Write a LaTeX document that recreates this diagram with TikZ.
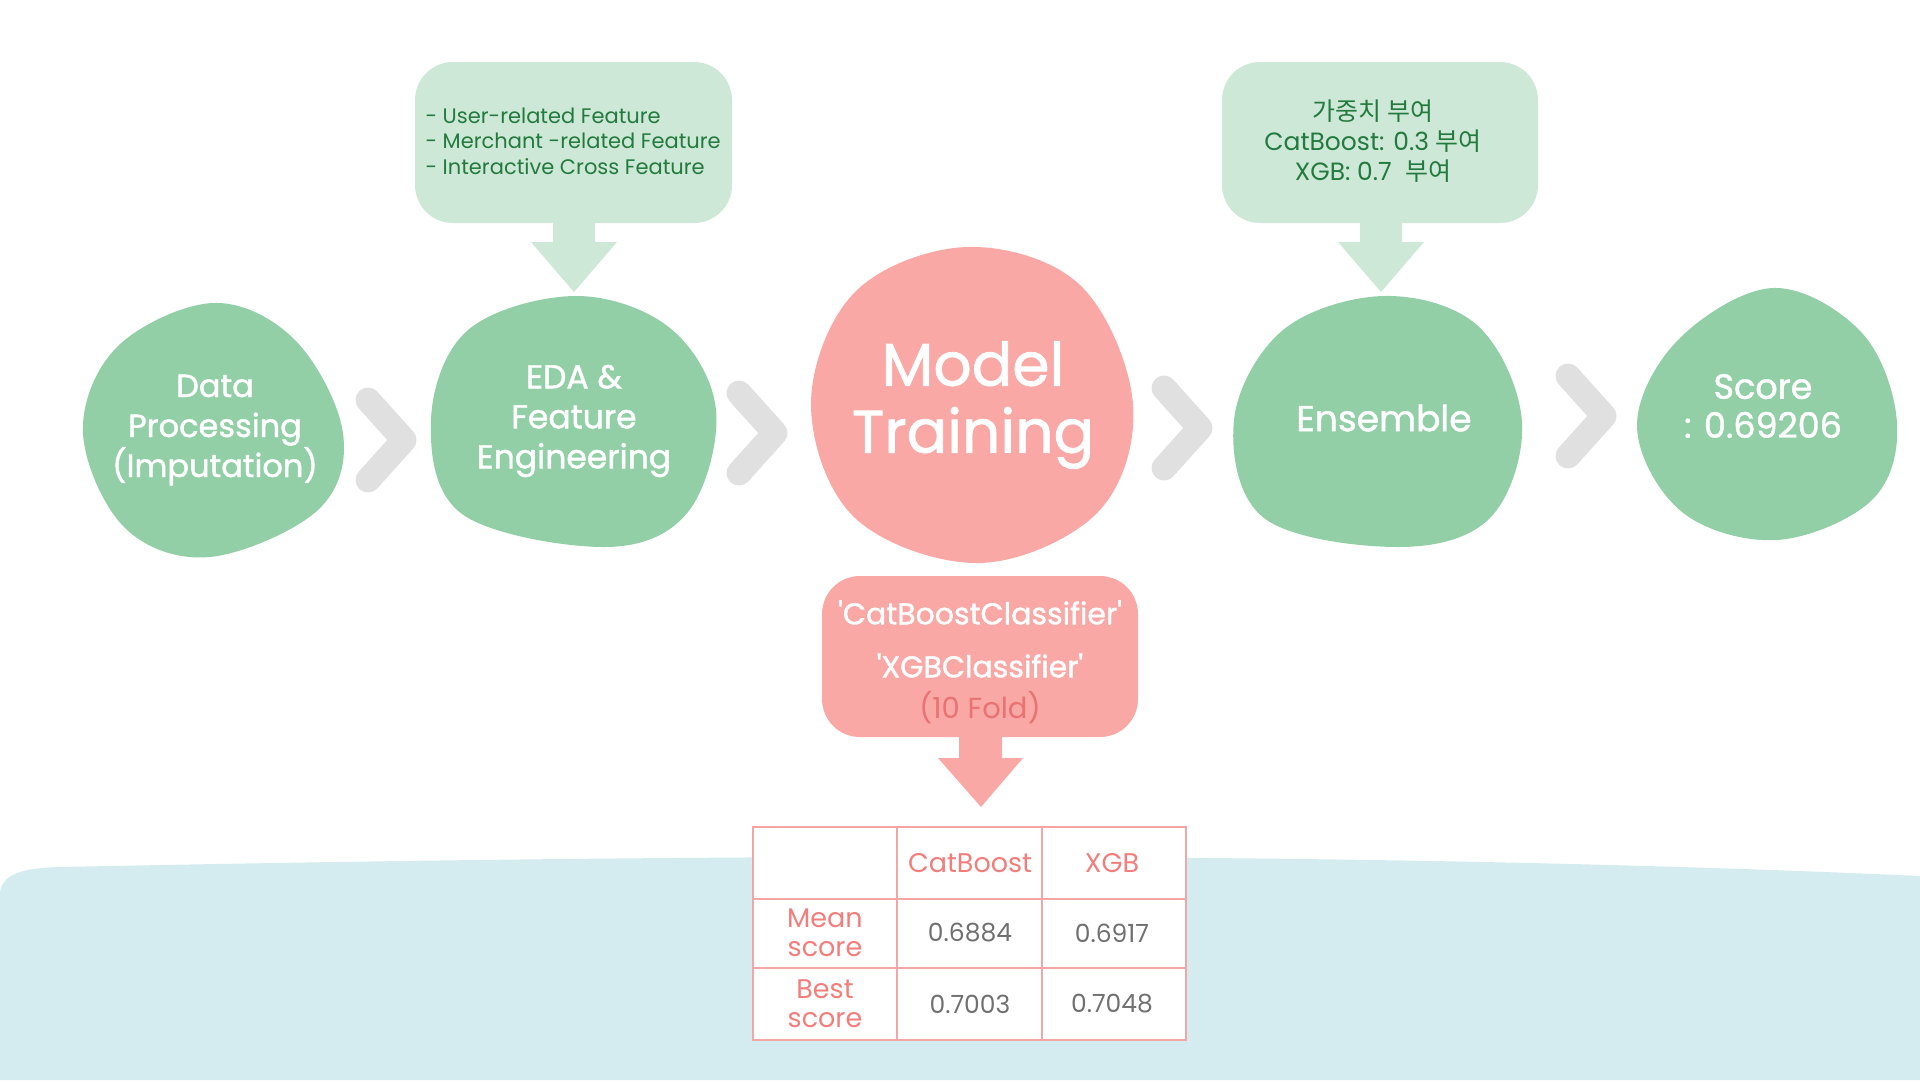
\documentclass[tikz,border=0pt]{standalone}
\usepackage{fontspec}
\setmainfont{Poppins}
\newfontfamily\medfont{Poppins}[FakeBold=1.3]
\newfontfamily\krfont{Noto Sans CJK KR}
\usepackage{xcolor}
\definecolor{blobgreen}{HTML}{92CFA6}
\definecolor{calloutgreen}{HTML}{CDE8D6}
\definecolor{textgreen}{HTML}{237A3E}
\definecolor{blobpink}{HTML}{F9A8A6}
\definecolor{foldpink}{HTML}{E97272}
\definecolor{tablepink}{HTML}{F5A5A3}
\definecolor{headpink}{HTML}{F27E7C}
\definecolor{chevrongray}{HTML}{E0E0E0}
\definecolor{seablue}{HTML}{D4EBF0}
\definecolor{numgray}{HTML}{707070}

\begin{document}
\begin{tikzpicture}[x=1pt, y=-1pt,
  blobtext/.style={text=white, align=center, font=\medfont\fontsize{32}{40}\selectfont},
  chevron/.style={draw=chevrongray, line width=25pt, line cap=round, line join=round},
  notetext/.style={text=textgreen, align=center, font=\fontsize{25}{30}\selectfont},
  cell/.style={align=center, font=\fontsize{25}{29}\selectfont},
  rule/.style={draw=tablepink, line width=2.5pt}]

\useasboundingbox (0,0) rectangle (1920,1080);

%% ------------------------------------------------------------------
%% background: the light blue band under the score table
%% ------------------------------------------------------------------
\fill[seablue] (0,1080) -- (0,895) .. controls (0,875) and (20,868) .. (60,867)
  .. controls (600,856) and (1300,848) .. (1920,876) -- (1920,1080) -- cycle;

%% ------------------------------------------------------------------
%% pipeline blobs, left to right
%% ------------------------------------------------------------------
% data processing
\fill[blobgreen] plot[smooth cycle, tension=0.6] coordinates
  {(213,303) (295,340) (343,433) (318,510) (210,557) (125,528) (83,433) (117,347)};
\node[blobtext] (dataproc) at (215,430) {Data\\Processing\\(Imputation)};

% EDA & feature engineering
\fill[blobgreen] plot[smooth cycle, tension=0.6] coordinates
  {(575,296) (670,328) (716,410) (688,512) (605,547) (462,514) (431,420) (468,330)};
\node[blobtext, font=\medfont\fontsize{33}{40}\selectfont] (eda) at (574,421)
  {EDA \&\\Feature\\Engineering};

% model training, the pink one
\fill[blobpink] plot[smooth cycle, tension=0.6] coordinates
  {(967,247) (1080,285) (1133,404) (1098,512) (980,563) (855,518) (811,404) (855,292)};
\node[blobtext, font=\medfont\fontsize{60}{67}\selectfont] (training) at (973,405)
  {Model\\Training};

% ensemble
\fill[blobgreen] plot[smooth cycle, tension=0.6] coordinates
  {(1384,296) (1478,326) (1522,422) (1490,518) (1398,547) (1264,518) (1234,420) (1283,330)};
\node[blobtext, font=\medfont\fontsize{36}{40}\selectfont] (ensemble) at (1384,418) {Ensemble};

% final score
\fill[blobgreen] plot[smooth cycle, tension=0.6] coordinates
  {(1773,288) (1862,333) (1897,423) (1872,500) (1777,540) (1682,512) (1637,427) (1678,340)};
\node[blobtext, font=\medfont\fontsize{35}{39}\selectfont] (score) at (1763,406)
  {Score\\: 0.69206};

% chevrons between the stages
\foreach \cx/\cy in {368/440, 739/433, 1164/428, 1568/416}{
  \draw[chevron] (\cx,\cy-40) -- (\cx+36,\cy) -- (\cx,\cy+40);
}

%% ------------------------------------------------------------------
%% callouts: two green ones above, the pink one below training
%% ------------------------------------------------------------------
\foreach \bx/\ex/\ax in {415/732/574, 1222/1538/1381}{
  \fill[calloutgreen, rounded corners=38pt] (\bx,62) rectangle (\ex,223);
  \fill[calloutgreen] (\ax-21,220) -- (\ax+21,220) -- (\ax+21,242)
    -- (\ax+43,242) -- (\ax,292) -- (\ax-43,242) -- (\ax-21,242) -- cycle;
}
\node[notetext, align=left, font=\fontsize{21}{25.5}\selectfont, anchor=west]
  (features) at (422,141)
  {- User-related Feature\\- Merchant -related Feature\\- Interactive Cross Feature};
\node[notetext] (weights) at (1373,141)
  {{\krfont 가중치 부여}\\CatBoost: 0.3 {\krfont 부여}\\XGB: 0.7\ \ {\krfont 부여}};

\fill[blobpink, rounded corners=38pt] (822,576) rectangle (1138,737);
\fill[blobpink] (959,734) -- (1002,734) -- (1002,758) -- (1023,758)
  -- (981,807) -- (938,758) -- (959,758) -- cycle;
\node[text=white, align=center, font=\medfont\fontsize{30}{53}\selectfont] (models) at (980,639)
  {\textquotesingle CatBoostClassifier\textquotesingle\\\textquotesingle XGBClassifier\textquotesingle};
\node[text=foldpink, font=\fontsize{29}{30}\selectfont] (folds) at (980,708) {(10 Fold)};

%% ------------------------------------------------------------------
%% score table
%% ------------------------------------------------------------------
\fill[white] (753,827) rectangle (1186,1040);
\draw[rule] (753,827) rectangle (1186,1040);
\foreach \cx in {897,1042}{ \draw[rule] (\cx,827) -- (\cx,1040); }
\foreach \ry in {899,968}{ \draw[rule] (753,\ry) -- (1186,\ry); }

\node[cell, text=headpink, font=\fontsize{27}{29}\selectfont] (hcat) at (970,863) {CatBoost};
\node[cell, text=headpink, font=\fontsize{27}{29}\selectfont] (hxgb) at (1112,863) {XGB};
\node[cell, text=headpink, font=\fontsize{27}{29}\selectfont] (hmean) at (825,933) {Mean\\score};
\node[cell, text=headpink, font=\fontsize{27}{29}\selectfont] (hbest) at (825,1004) {Best\\score};
\foreach \cx/\ry/\val/\nm in {970/933/0.6884/catmean, 1112/933/0.6917/xgbmean,
                              970/1004/0.7003/catbest, 1112/1004/0.7048/xgbbest}{
  \node[cell, text=numgray] (\nm) at (\cx,\ry) {\val};
}

\end{tikzpicture}
\end{document}
